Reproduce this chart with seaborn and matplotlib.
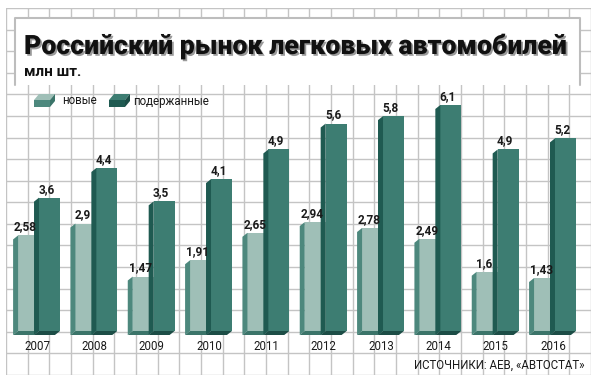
import numpy as np
import pandas as pd
import matplotlib
matplotlib.use("Agg")
import matplotlib.pyplot as plt
import matplotlib.patheffects as pe
from matplotlib.patches import Polygon, Rectangle
from matplotlib.transforms import IdentityTransform
import seaborn as sns

# data
years = ["2007", "2008", "2009", "2010", "2011", "2012", "2013", "2014", "2015", "2016"]
new_cars = [2.58, 2.9, 1.47, 1.91, 2.65, 2.94, 2.78, 2.49, 1.6, 1.43]
used_cars = [3.6, 4.4, 3.5, 4.1, 4.9, 5.6, 5.8, 6.1, 4.9, 5.2]
series_names = ["новые", "подержанные"]

title = "Российский рынок легковых автомобилей"
subtitle = "млн шт."
source = "ИСТОЧНИКИ: АЕВ, «АВТОСТАТ»"

df = pd.DataFrame({
    "year": years * 2,
    "value": new_cars + used_cars,
    "type": [series_names[0]] * len(years) + [series_names[1]] * len(years),
})

sns.set_style("white")
narrow = ["Roboto", "DejaVu Sans"]

W, H = 598, 382
fig = plt.figure(figsize=(W / 100, H / 100), dpi=100)
fig.patch.set_facecolor("white")

front = {"новые": "#9fbfb7", "подержанные": "#3d7d72"}
side = {"новые": "#4d887d", "подержанные": "#1f5a51"}
bottom = {"новые": "#3b7469", "подержанные": "#1c4d46"}


def px(x, y):
    # image pixel (y from top) -> display coords
    return (x, H - y)


# background grid
bg = fig.add_axes([6 / W, 7 / H, 585 / W, 367 / H])
bg.set_xlim(0, 27)
bg.set_ylim(0, 17)
bg.set_xticks(range(28))
bg.set_yticks(range(18))
bg.grid(True, color="#c4c4c4", lw=1)
bg.tick_params(length=0, labelbottom=False, labelleft=False)
for s in bg.spines.values():
    s.set_visible(False)

# title box
tr = IdentityTransform()
fig.add_artist(Rectangle(px(15, 85), 565, 67, transform=tr, facecolor="white",
                         edgecolor="none", zorder=1))
fig.add_artist(plt.Line2D([15, 15, 580, 580], [H - 85, H - 18, H - 18, H - 85],
                          transform=tr, color="#bdbdbd", lw=1.5, zorder=1.1))

fig.text(24 / W, 1 - 54 / H, title, fontsize=19.2, fontweight="black",
         family=["Roboto", "DejaVu Sans"], color="#111111", va="baseline",
         path_effects=[pe.SimplePatchShadow(offset=(1.3, -1.3), shadow_rgbFace="#9a9a9a", alpha=1),
                       pe.Normal()])
fig.text(24 / W, 1 - 76 / H, subtitle, fontsize=11, fontweight="bold",
         family=["Roboto", "DejaVu Sans"], color="#111111", va="baseline")

# bars
ax = fig.add_axes([6 / W, 7 / H, 585 / W, 367 / H])
ax.patch.set_alpha(0)
sns.barplot(data=df, x="year", y="value", hue="type", palette=[front[n] for n in series_names],
            width=0.73, saturation=1, legend=False, ax=ax, linewidth=0)
base_px = 331
ppu_y = 37.05
ax.set_xlim(-0.576, 9.628)
ax.set_ylim((base_px - 375) / ppu_y, (base_px - 8) / ppu_y)
ax.axis("off")

ppu_x = 585 / (9.628 + 0.576)
dx, dy = 5 / ppu_x, 4 / ppu_y
bars = [p for p in ax.patches if p.get_height() > 0]
n = len(years)
for k, p in enumerate(bars):
    name = series_names[k // n]
    x0, x1 = p.get_x(), p.get_x() + p.get_width()
    top = p.get_height()
    ax.add_patch(Polygon([(x0, top), (x0 - dx, top - dy), (x0 - dx, -dy), (x0, 0)],
                         facecolor=side[name], edgecolor="none"))
    ax.add_patch(Polygon([(x0, 0), (x1, 0), (x1 - dx, -dy), (x0 - dx, -dy)],
                         facecolor=bottom[name], edgecolor="none"))
    lbl = ("%g" % top).replace(".", ",")
    ax.annotate(lbl, xy=((x0 + x1) / 2, top), xytext=(-3, 5), textcoords="offset pixels",
                ha="center", va="baseline", fontsize=8.5, fontweight="bold",
                family=["Roboto", "DejaVu Sans"], color="#1a1a1a")

for i, y in enumerate(years):
    ax.annotate(y, xy=(i, 0), xytext=(-2, -15), textcoords="offset pixels",
                ha="center", va="center", fontsize=8.3, family=narrow, color="#1a1a1a")

ax.annotate(source, xy=(1, 0), xycoords=fig.transFigure, xytext=(-13, 17),
            textcoords="offset pixels", ha="right", va="center", fontsize=8.3,
            family=narrow, color="#1a1a1a")

# legend
def legend_box(x, y, name):
    # small 3d box, x,y = image px of front top-left
    fig.add_artist(Polygon([px(x, y + 6), px(x + 16, y + 6), px(x + 21, y), px(x + 5, y)],
                           transform=tr, facecolor=front[name], edgecolor="none", zorder=2))
    fig.add_artist(Polygon([px(x, y + 6), px(x + 16, y + 6), px(x + 16, y + 13), px(x, y + 13)],
                           transform=tr, facecolor=side[name], edgecolor="none", zorder=2))
    fig.add_artist(Polygon([px(x + 16, y + 6), px(x + 21, y), px(x + 21, y + 7), px(x + 16, y + 13)],
                           transform=tr, facecolor=bottom[name], edgecolor="none", zorder=2))


legend_box(34, 94, series_names[0])
legend_box(109, 94, series_names[1])
fig.text(62 / W, 1 - 101 / H, series_names[0], fontsize=8.3, family=narrow,
         color="#1a1a1a", va="center")
fig.text(133 / W, 1 - 101 / H, series_names[1], fontsize=8.3, family=narrow,
         color="#1a1a1a", va="center")

fig.savefig("out.png", dpi=100)
